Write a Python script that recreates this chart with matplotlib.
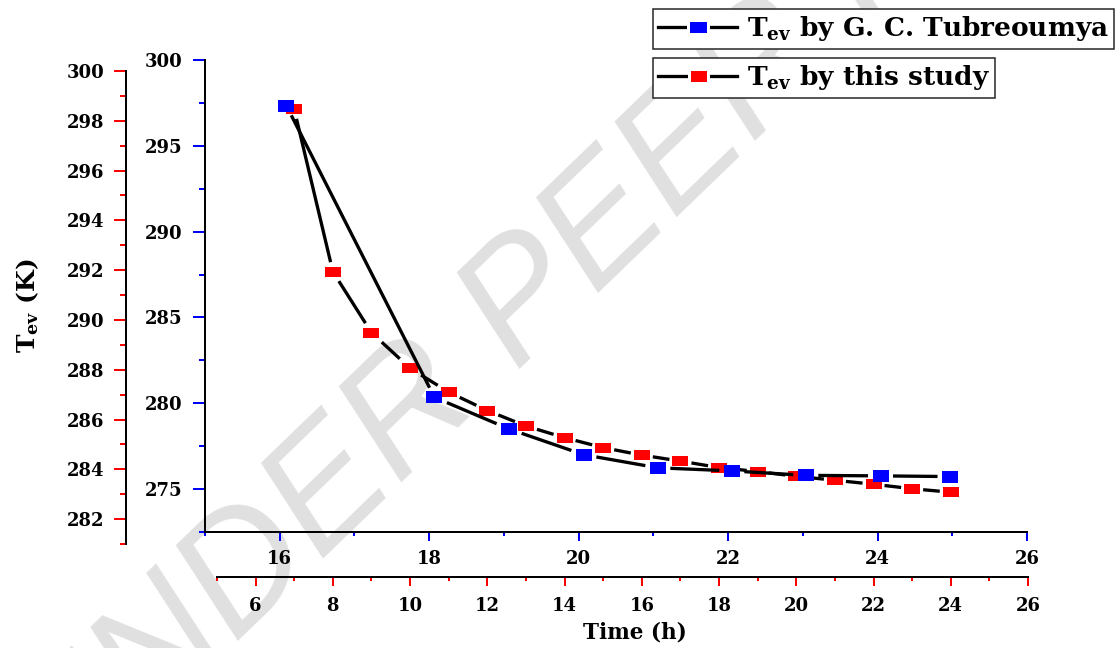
import numpy as np
import matplotlib
matplotlib.use("Agg")
import matplotlib.pyplot as plt
from matplotlib.path import Path
from matplotlib.lines import Line2D
from matplotlib.collections import LineCollection
from matplotlib.ticker import MultipleLocator

# data
# G. C. Tubreoumya (blue, inner axes)
t_ref = [16.09, 18.07, 19.07, 20.07, 21.06, 22.05, 23.04, 24.04, 24.97]
T_ref = [297.33, 280.35, 278.5, 277.0, 276.24, 276.06, 275.8, 275.77, 275.73]
# this study (red, outer axes)
t_new = [7, 8, 9, 10, 11, 12, 13, 14, 15, 16, 17, 18, 19, 20, 21, 22, 23, 24]
T_new = [298.46, 291.94, 289.49, 288.06, 287.10, 286.36, 285.74, 285.27, 284.87,
         284.57, 284.33, 284.07, 283.91, 283.72, 283.56, 283.40, 283.22, 283.08]

lbl_ref = r'$\mathrm{T}_{\mathrm{ev}}$ by G. C. Tubreoumya'
lbl_new = r'$\mathrm{T}_{\mathrm{ev}}$ by this study'

plt.rcParams['font.family'] = ['DejaVu Serif']
plt.rcParams['font.weight'] = 'bold'
plt.rcParams['mathtext.fontset'] = 'custom'
plt.rcParams['mathtext.rm'] = 'DejaVu Serif:bold'
plt.rcParams['mathtext.it'] = 'DejaVu Serif:bold'
plt.rcParams['mathtext.bf'] = 'DejaVu Serif:bold'

W, H = 1119, 648
DPI = 100
fig = plt.figure(figsize=(W / DPI, H / DPI), dpi=DPI)

# watermark
fig.text(670 / W, 1 - 165 / H, 'UNDER PEER REVIEW', family='Liberation Sans',
         weight='normal', style='italic', fontsize=118, color='#e0e0e0', rotation=44,
         rotation_mode='anchor', ha='center', va='center', zorder=-1)

rect = Path([(-1, -0.7), (1, -0.7), (1, 0.7), (-1, 0.7), (-1, -0.7)], closed=True)


def px(v):
    return v * 72 / DPI


def gapped_line(ax, x, y, gw=12, gh=9.5, **kw):
    # origin style: line segments stop short of the symbols
    pts = ax.transData.transform(np.column_stack([x, y]))
    inv = ax.transData.inverted()
    segs = []
    for p0, p1 in zip(pts[:-1], pts[1:]):
        d = p1 - p0
        L = np.hypot(d[0], d[1])
        u = d / L
        tw = gw / abs(u[0]) if abs(u[0]) > 1e-9 else np.inf
        th = gh / abs(u[1]) if abs(u[1]) > 1e-9 else np.inf
        t = min(tw, th)
        if 2 * t >= L:
            continue
        segs.append(inv.transform([p0 + u * t, p1 - u * t]))
    ax.add_collection(LineCollection(segs, colors='black', linewidths=px(3.3),
                                     capstyle='butt', **kw))


def style_axes(ax, col, xlen, ylen):
    ax.set_facecolor('none')
    for s in ['top', 'right']:
        ax.spines[s].set_visible(False)
    for s in ['left', 'bottom']:
        ax.spines[s].set_linewidth(px(2))
        ax.spines[s].set_color('black')
    ax.tick_params(which='both', direction='out', color=col, width=px(2),
                   labelsize=13, labelcolor='black')
    ax.tick_params(axis='x', which='major', length=px(xlen[0]))
    ax.tick_params(axis='x', which='minor', length=px(xlen[1]))
    ax.tick_params(axis='y', which='major', length=px(ylen[0]))
    ax.tick_params(axis='y', which='minor', length=px(ylen[1]))


# red (this study) axes, outer
axr = fig.add_axes([217 / W, 1 - 544 / H, 811 / W, 473 / H])
axr.set_xlim(5, 26)
axr.set_ylim(281, 300)
axr.xaxis.set_major_locator(MultipleLocator(2))
axr.xaxis.set_minor_locator(MultipleLocator(1))
axr.yaxis.set_major_locator(MultipleLocator(2))
axr.yaxis.set_minor_locator(MultipleLocator(1))
style_axes(axr, 'red', (9, 4), (12, 6))
axr.spines['left'].set_position(('outward', px(91)))
axr.spines['bottom'].set_position(('outward', px(33)))
axr.tick_params(axis='x', pad=px(11))
axr.tick_params(axis='y', pad=px(10))

# blue (Tubreoumya) axes, inner
axb = fig.add_axes([205 / W, 1 - 532 / H, 822 / W, 472 / H])
axb.set_xlim(15, 26)
axb.set_ylim(272.5, 300)
axb.xaxis.set_major_locator(MultipleLocator(2))
axb.xaxis.set_minor_locator(MultipleLocator(1))
axb.yaxis.set_major_locator(MultipleLocator(5))
axb.yaxis.set_minor_locator(MultipleLocator(2.5))
style_axes(axb, 'blue', (9, 4), (12, 6))
axb.tick_params(axis='x', pad=px(9))
axb.tick_params(axis='y', pad=px(11))

gapped_line(axr, t_new, T_new, gw=11, gh=9.5)
axr.plot(t_new, T_new, ls='none', marker=rect, ms=px(15.7), mfc='#ff0000',
         mec='#ff0000', mew=0, clip_on=False)

gapped_line(axb, t_ref, T_ref, gw=12.5, gh=9.5)
axb.plot(t_ref, T_ref, ls='none', marker=rect, ms=px(16.7), mfc='#0000ff',
         mec='#0000ff', mew=0, clip_on=False)

# labels
fig.text(28 / W, 1 - 306 / H, r'$\mathrm{T}_{\mathrm{ev}}$ (K)', rotation=90,
         fontsize=18, ha='center', va='center')
fig.text(635 / W, 1 - 632 / H, 'Time (h)', fontsize=15.5, ha='center', va='center')

# two separate legend boxes
h_ref = Line2D([], [], color='black', lw=px(3.3), marker=rect, ms=px(20), mfc='#0000ff',
               mec='white', mew=px(3))
h_new = Line2D([], [], color='black', lw=px(3.3), marker=rect, ms=px(19), mfc='#ff0000',
               mec='white', mew=px(3))
for h, lab, ytop in [(h_ref, lbl_ref, 9), (h_new, lbl_new, 58)]:
    leg = fig.legend([h], [lab], loc='upper left', bbox_to_anchor=(653 / W, 1 - ytop / H),
                     bbox_transform=fig.transFigure, fontsize=19, fancybox=False,
                     framealpha=1, edgecolor='#222222', borderpad=0.2, borderaxespad=0,
                     handlelength=3.0, handletextpad=0.35, numpoints=1)
    leg.get_frame().set_linewidth(px(1.5))

fig.savefig('out.png', dpi=DPI)
